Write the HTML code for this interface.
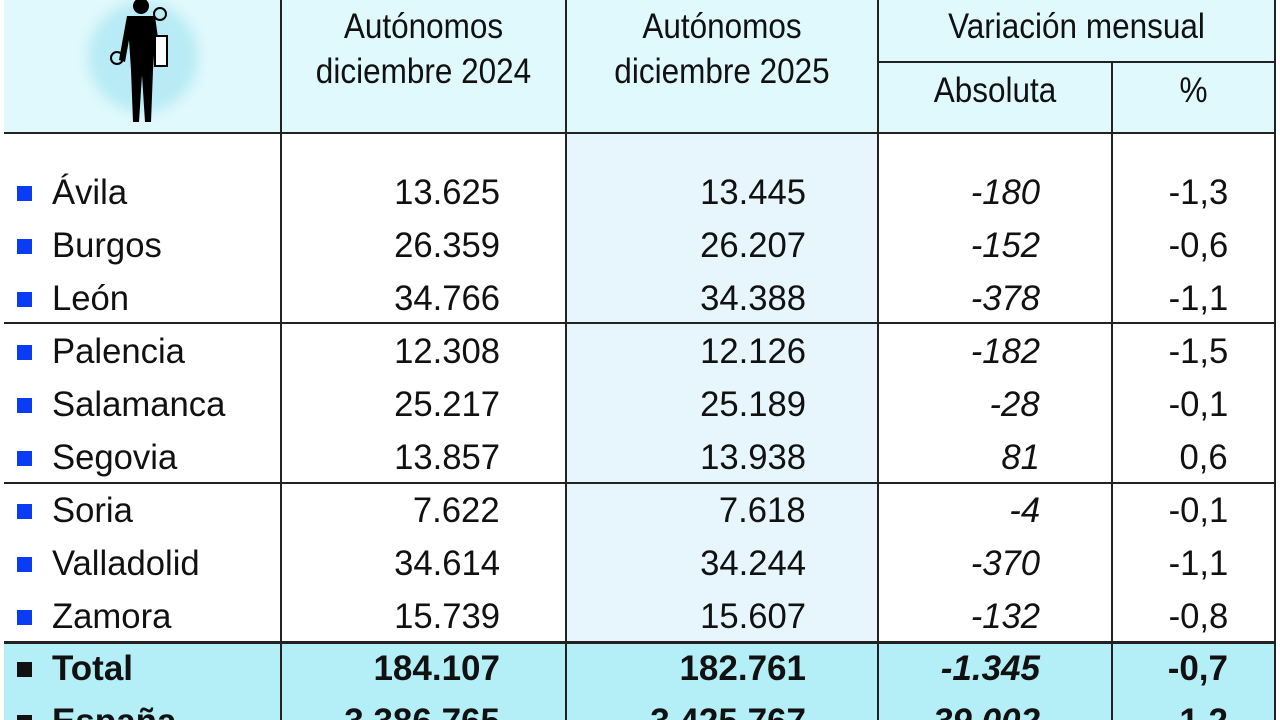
<!DOCTYPE html>
<html><head><meta charset="utf-8"><style>
html,body{margin:0;width:1280px;height:720px;overflow:hidden}
body{background:#fff;position:relative;font-family:"Liberation Sans",sans-serif;color:#111}
.a{position:absolute}
.t{position:absolute;height:40px;line-height:40px;font-size:35px;white-space:nowrap;transform:scaleX(0.99)}
.l{transform-origin:left center}
.r{transform-origin:right center;text-align:right}
.c{transform-origin:center center;text-align:center;transform:scaleX(0.9)}
.i{font-style:italic}
.b{font-weight:bold;transform:scaleX(1.0)}
.sq{position:absolute;left:17px;width:15px;height:15px;background:#0a3cf5}
.vl{position:absolute;width:2px;background:#222}
.hl{position:absolute;height:2px;background:#222}
</style></head><body>
<div class="a" style="left:4px;top:0;width:1271px;height:133px;background:#e0f9fc"></div>
<div class="a" style="left:567px;top:133px;width:311px;height:510px;background:#e6f6fc"></div>
<div class="a" style="left:4px;top:643px;width:1271px;height:77px;background:#b4eef6"></div>
<div class="a" style="left:88px;top:2px;width:110px;height:110px;border-radius:50%;background:#b8ebf5;filter:blur(6px)"></div>
<svg class="a" style="left:105px;top:0" width="80" height="130" viewBox="0 0 80 130">
<circle cx="36" cy="6" r="8" fill="#000"/>
<path d="M22 16 L50 16 L56 60 L52 62 L50 40 L48 70 L46 122 L40 122 L37 75 L34 122 L28 122 L26 70 L24 40 L20 62 L14 60 Z" fill="#000"/>
<rect x="50" y="36" width="12" height="30" fill="#fff" stroke="#000" stroke-width="2"/>
<circle cx="55" cy="14" r="6" fill="none" stroke="#000" stroke-width="2"/>
<circle cx="12" cy="58" r="6" fill="none" stroke="#000" stroke-width="2"/>
</svg>
<div class="hl" style="left:4px;top:132px;width:1271px"></div>
<div class="hl" style="left:878px;top:61px;width:397px"></div>
<div class="hl" style="left:4px;top:322px;width:1271px"></div>
<div class="hl" style="left:4px;top:482px;width:1271px"></div>
<div class="hl" style="left:4px;top:641px;width:1271px;height:3px"></div>
<div class="vl" style="left:280px;top:0;height:720px"></div>
<div class="vl" style="left:565px;top:0;height:720px"></div>
<div class="vl" style="left:877px;top:0;height:720px"></div>
<div class="vl" style="left:1111px;top:61px;height:659px"></div>
<div class="vl" style="left:1274px;top:0;height:720px"></div>

<div class="t c" style="left:281px;width:285px;top:7px">Autónomos</div>
<div class="t c" style="left:281px;width:285px;top:52px">diciembre 2024</div>
<div class="t c" style="left:566px;width:312px;top:7px">Autónomos</div>
<div class="t c" style="left:566px;width:312px;top:52px">diciembre 2025</div>
<div class="t c" style="left:878px;width:397px;top:7px">Variación mensual</div>
<div class="t c" style="left:878px;width:234px;top:71px">Absoluta</div>
<div class="t c" style="left:1112px;width:163px;top:71px">%</div>

<div class="sq" style="top:186px"></div><div class="t l" style="left:52px;top:173px">Ávila</div><div class="t r" style="right:780px;top:173px">13.625</div><div class="t r" style="right:474px;top:173px">13.445</div><div class="t r i" style="right:240px;top:173px">-180</div><div class="t r" style="right:52px;top:173px">-1,3</div>
<div class="sq" style="top:239px"></div><div class="t l" style="left:52px;top:226px">Burgos</div><div class="t r" style="right:780px;top:226px">26.359</div><div class="t r" style="right:474px;top:226px">26.207</div><div class="t r i" style="right:240px;top:226px">-152</div><div class="t r" style="right:52px;top:226px">-0,6</div>
<div class="sq" style="top:292px"></div><div class="t l" style="left:52px;top:279px">León</div><div class="t r" style="right:780px;top:279px">34.766</div><div class="t r" style="right:474px;top:279px">34.388</div><div class="t r i" style="right:240px;top:279px">-378</div><div class="t r" style="right:52px;top:279px">-1,1</div>
<div class="sq" style="top:345px"></div><div class="t l" style="left:52px;top:332px">Palencia</div><div class="t r" style="right:780px;top:332px">12.308</div><div class="t r" style="right:474px;top:332px">12.126</div><div class="t r i" style="right:240px;top:332px">-182</div><div class="t r" style="right:52px;top:332px">-1,5</div>
<div class="sq" style="top:398px"></div><div class="t l" style="left:52px;top:385px">Salamanca</div><div class="t r" style="right:780px;top:385px">25.217</div><div class="t r" style="right:474px;top:385px">25.189</div><div class="t r i" style="right:240px;top:385px">-28</div><div class="t r" style="right:52px;top:385px">-0,1</div>
<div class="sq" style="top:451px"></div><div class="t l" style="left:52px;top:438px">Segovia</div><div class="t r" style="right:780px;top:438px">13.857</div><div class="t r" style="right:474px;top:438px">13.938</div><div class="t r i" style="right:240px;top:438px">81</div><div class="t r" style="right:52px;top:438px">0,6</div>
<div class="sq" style="top:504px"></div><div class="t l" style="left:52px;top:491px">Soria</div><div class="t r" style="right:780px;top:491px">7.622</div><div class="t r" style="right:474px;top:491px">7.618</div><div class="t r i" style="right:240px;top:491px">-4</div><div class="t r" style="right:52px;top:491px">-0,1</div>
<div class="sq" style="top:557px"></div><div class="t l" style="left:52px;top:544px">Valladolid</div><div class="t r" style="right:780px;top:544px">34.614</div><div class="t r" style="right:474px;top:544px">34.244</div><div class="t r i" style="right:240px;top:544px">-370</div><div class="t r" style="right:52px;top:544px">-1,1</div>
<div class="sq" style="top:610px"></div><div class="t l" style="left:52px;top:597px">Zamora</div><div class="t r" style="right:780px;top:597px">15.739</div><div class="t r" style="right:474px;top:597px">15.607</div><div class="t r i" style="right:240px;top:597px">-132</div><div class="t r" style="right:52px;top:597px">-0,8</div>
<div class="sq" style="top:662px;background:#111"></div><div class="t l b" style="left:52px;top:649px">Total</div><div class="t r b" style="right:780px;top:649px">184.107</div><div class="t r b" style="right:474px;top:649px">182.761</div><div class="t r b i" style="right:240px;top:649px">-1.345</div><div class="t r b" style="right:52px;top:649px">-0,7</div>
<div class="sq" style="top:715px;background:#111"></div><div class="t l b" style="left:52px;top:702px">España</div><div class="t r b" style="right:780px;top:702px">3.386.765</div><div class="t r b" style="right:474px;top:702px">3.425.767</div><div class="t r b i" style="right:240px;top:702px">39.002</div><div class="t r b" style="right:52px;top:702px">1,2</div>
</body></html>
